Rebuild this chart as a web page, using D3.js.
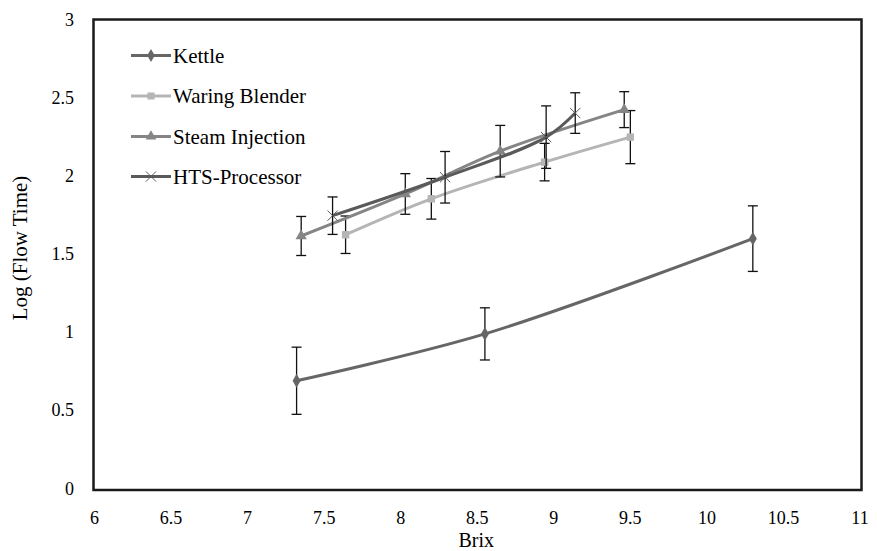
<!DOCTYPE html>
<html>
<head>
<meta charset="utf-8">
<script src="https://cdn.jsdelivr.net/npm/d3@7"></script>
<style>
  body { margin: 0; background: #fff; }
  svg text { font-family: "Liberation Serif", serif; }
</style>
</head>
<body>
<div class="canva"></div>
<script>
// values
const series_names = ["Kettle", "Waring Blender", "Steam Injection", "HTS-Processor"]
const kettle_x = [7.32, 8.55, 10.3]
const kettle_y = [0.69, 0.99, 1.60]
const kettle_err = [0.215, 0.167, 0.21]
const blender_x = [7.64, 8.2, 8.94, 9.5]
const blender_y = [1.625, 1.855, 2.09, 2.25]
const blender_err = [0.12, 0.13, 0.12, 0.17]
const steam_x = [7.35, 8.03, 8.65, 9.46]
const steam_y = [1.617, 1.886, 2.16, 2.426]
const steam_err = [0.125, 0.13, 0.165, 0.115]
const hts_x = [7.555, 8.29, 8.95, 9.14]
const hts_y = [1.747, 1.993, 2.25, 2.404]
const hts_err = [0.12, 0.165, 0.2, 0.13]
const x_ticks = [6, 6.5, 7, 7.5, 8, 8.5, 9, 9.5, 10, 10.5, 11]
const y_ticks = [0, 0.5, 1, 1.5, 2, 2.5, 3]

const colors = ["#666666", "#b5b5b5", "#858585", "#5a5a5a"]
const symbols = [d3.symbolDiamond, d3.symbolSquare, d3.symbolTriangle, d3.symbolX]
const FONT = '"Liberation Serif"'

function make_points(xs, ys, es) {
    return xs.map((x, i) => ({x: x, y: ys[i], e: es[i]}))
}
const all_series = [
    make_points(kettle_x, kettle_y, kettle_err),
    make_points(blender_x, blender_y, blender_err),
    make_points(steam_x, steam_y, steam_err),
    make_points(hts_x, hts_y, hts_err),
]

const W = 877, H = 551
const p_left = 94.5, p_right = 860, p_top = 20, p_bottom = 488.5

const svg = d3.select('.canva').append('svg')
    .attr('width', W)
    .attr('height', H)
    .style('font-family', FONT)

const x = d3.scaleLinear().domain([6, 11]).range([p_left, p_right])
const y = d3.scaleLinear().domain([0, 3]).range([p_bottom, p_top])

// plot frame
svg.append('rect')
    .attr('x', 93.5).attr('y', 19.5)
    .attr('width', 861.5 - 93.5).attr('height', 490 - 19.5)
    .attr('fill', 'none')
    .attr('stroke', '#1a1a1a')
    .attr('stroke-width', 2.5)

// tick labels (no tick marks in the original)
svg.append('g').selectAll('text')
    .data(x_ticks).enter().append('text')
    .attr('x', d => x(d))
    .attr('y', 524)
    .attr('text-anchor', 'middle')
    .attr('font-size', 18)
    .style('font-family', FONT)
    .text(d => d)

svg.append('g').selectAll('text')
    .data(y_ticks).enter().append('text')
    .attr('x', 74)
    .attr('y', d => y(d) + 6)
    .attr('text-anchor', 'end')
    .attr('font-size', 18)
    .style('font-family', FONT)
    .text(d => d)

svg.append('text')
    .attr('x', (p_left + p_right) / 2 - 1).attr('y', 547)
    .attr('text-anchor', 'middle')
    .attr('font-size', 20)
    .style('font-family', FONT)
    .text('Brix')

svg.append('text')
    .attr('transform', `translate(27,248) rotate(-90)`)
    .attr('text-anchor', 'middle')
    .attr('font-size', 21)
    .style('font-family', FONT)
    .text('Log (Flow Time)')

const line = d3.line()
    .x(d => x(d.x))
    .y(d => y(d.y))
    .curve(d3.curveCatmullRom.alpha(0.5))

all_series.forEach((pts, si) => {
    const g = svg.append('g')
    g.append('path')
        .datum(pts)
        .attr('d', line)
        .attr('fill', 'none')
        .attr('stroke', colors[si])
        .attr('stroke-width', 3)

    // error bars
    const eb = g.selectAll('g.err').data(pts).enter().append('g')
    eb.append('line')
        .attr('x1', d => x(d.x)).attr('x2', d => x(d.x))
        .attr('y1', d => y(d.y + d.e)).attr('y2', d => y(d.y - d.e))
        .attr('stroke', '#111').attr('stroke-width', 1.3)
    eb.append('line')
        .attr('x1', d => x(d.x) - 5).attr('x2', d => x(d.x) + 5)
        .attr('y1', d => y(d.y + d.e)).attr('y2', d => y(d.y + d.e))
        .attr('stroke', '#111').attr('stroke-width', 1.3)
    eb.append('line')
        .attr('x1', d => x(d.x) - 5).attr('x2', d => x(d.x) + 5)
        .attr('y1', d => y(d.y - d.e)).attr('y2', d => y(d.y - d.e))
        .attr('stroke', '#111').attr('stroke-width', 1.3)

    const sym = d3.symbol().type(symbols[si]).size(si == 3 ? 70 : 55)
    g.selectAll('path.mark').data(pts).enter().append('path')
        .attr('class', 'mark')
        .attr('d', sym)
        .attr('transform', d => `translate(${x(d.x)},${y(d.y)})`)
        .attr('fill', si == 3 ? 'none' : colors[si])
        .attr('stroke', colors[si])
        .attr('stroke-width', si == 3 ? 1 : 0)
})

// legend
const legend_y = [55.5, 96, 136.5, 176.5]
series_names.forEach((name, i) => {
    const g = svg.append('g').attr('transform', `translate(131,${legend_y[i]})`)
    g.append('line')
        .attr('x1', 0).attr('x2', 40)
        .attr('stroke', colors[i]).attr('stroke-width', 3)
    g.append('path')
        .attr('d', d3.symbol().type(symbols[i]).size(i == 3 ? 70 : 50))
        .attr('transform', 'translate(20,0)')
        .attr('fill', i == 3 ? 'none' : colors[i])
        .attr('stroke', colors[i])
        .attr('stroke-width', i == 3 ? 1 : 0)
    g.append('text')
        .attr('x', 42).attr('y', 7)
        .attr('font-size', 21)
        .style('font-family', FONT)
        .text(name)
})
</script>
</body>
</html>
